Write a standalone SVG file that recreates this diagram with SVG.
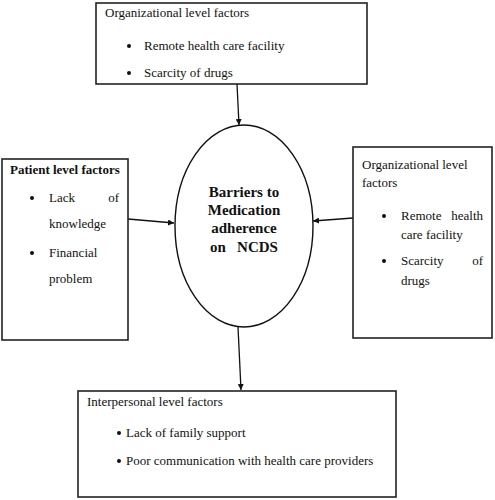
<svg xmlns="http://www.w3.org/2000/svg" width="495" height="500" viewBox="0 0 495 500">
<style>
.box{fill:#fff;stroke:#222;stroke-width:1.6}
.t{font-family:"Liberation Serif","Times New Roman",serif;font-size:13px;fill:#111}
.b{font-weight:bold}
.c{font-family:"Liberation Serif","Times New Roman",serif;font-size:15px;font-weight:bold;fill:#111;text-anchor:middle}
.e{text-anchor:end}
.conn{stroke:#111;stroke-width:1.3;fill:none;marker-end:url(#ah)}
</style>
<defs>
<marker id="ah" viewBox="0 0 10 10" refX="10" refY="5" markerWidth="6" markerHeight="6" markerUnits="userSpaceOnUse" orient="auto">
<path d="M0,0 L10,5 L0,10 z" fill="#111"/>
</marker>
</defs>
<rect width="495" height="500" fill="#fff"/>
<g id="connectors">
<line class="conn" x1="237" y1="84" x2="239" y2="125"/>
<line class="conn" x1="128" y1="219" x2="174" y2="223"/>
<line class="conn" x1="353" y1="218" x2="313" y2="221"/>
<line class="conn" x1="238" y1="327" x2="241" y2="390"/>
</g>
<g id="top-org">
<rect class="box" x="96" y="3" width="271" height="81"/>
<text class="t" x="105" y="17">Organizational level factors</text>
<circle cx="129" cy="46" r="2" fill="#111"/>
<text class="t" x="144" y="50">Remote health care facility</text>
<circle cx="129" cy="73" r="2" fill="#111"/>
<text class="t" x="144" y="77">Scarcity of drugs</text>
</g>
<g id="patient">
<rect class="box" x="2" y="159" width="126" height="181"/>
<text class="t b" x="10" y="174">Patient level factors</text>
<circle cx="32" cy="198" r="2" fill="#111"/>
<text class="t" x="49" y="202">Lack</text>
<text class="t e" x="119" y="202">of</text>
<text class="t" x="49" y="228">knowledge</text>
<circle cx="32" cy="253" r="2" fill="#111"/>
<text class="t" x="49" y="257">Financial</text>
<text class="t" x="49" y="283">problem</text>
</g>
<g id="right-org">
<rect class="box" x="353" y="147" width="139" height="191"/>
<text class="t" x="362" y="169">Organizational level</text>
<text class="t" x="362" y="187">factors</text>
<circle cx="384" cy="216" r="2" fill="#111"/>
<text class="t" x="401" y="220">Remote</text>
<text class="t e" x="483" y="220">health</text>
<text class="t" x="401" y="239">care facility</text>
<circle cx="384" cy="261" r="2" fill="#111"/>
<text class="t" x="401" y="265">Scarcity</text>
<text class="t e" x="483" y="265">of</text>
<text class="t" x="401" y="285">drugs</text>
</g>
<g id="center">
<ellipse cx="244" cy="226" rx="69" ry="101" fill="#fff" stroke="#111" stroke-width="1.4"/>
<text class="c" x="244" y="197">Barriers to</text>
<text class="c" x="244" y="215">Medication</text>
<text class="c" x="244" y="233">adherence</text>
<text class="c" x="244" y="252" xml:space="preserve">on   NCDS</text>
</g>
<g id="interpersonal">
<rect class="box" x="78" y="391" width="318" height="106"/>
<text class="t" x="87" y="406">Interpersonal level factors</text>
<circle cx="119" cy="433" r="2" fill="#111"/>
<text class="t" x="126" y="437">Lack of family support</text>
<circle cx="119" cy="461" r="2" fill="#111"/>
<text class="t" x="126" y="465">Poor communication with health care providers</text>
</g>
</svg>
